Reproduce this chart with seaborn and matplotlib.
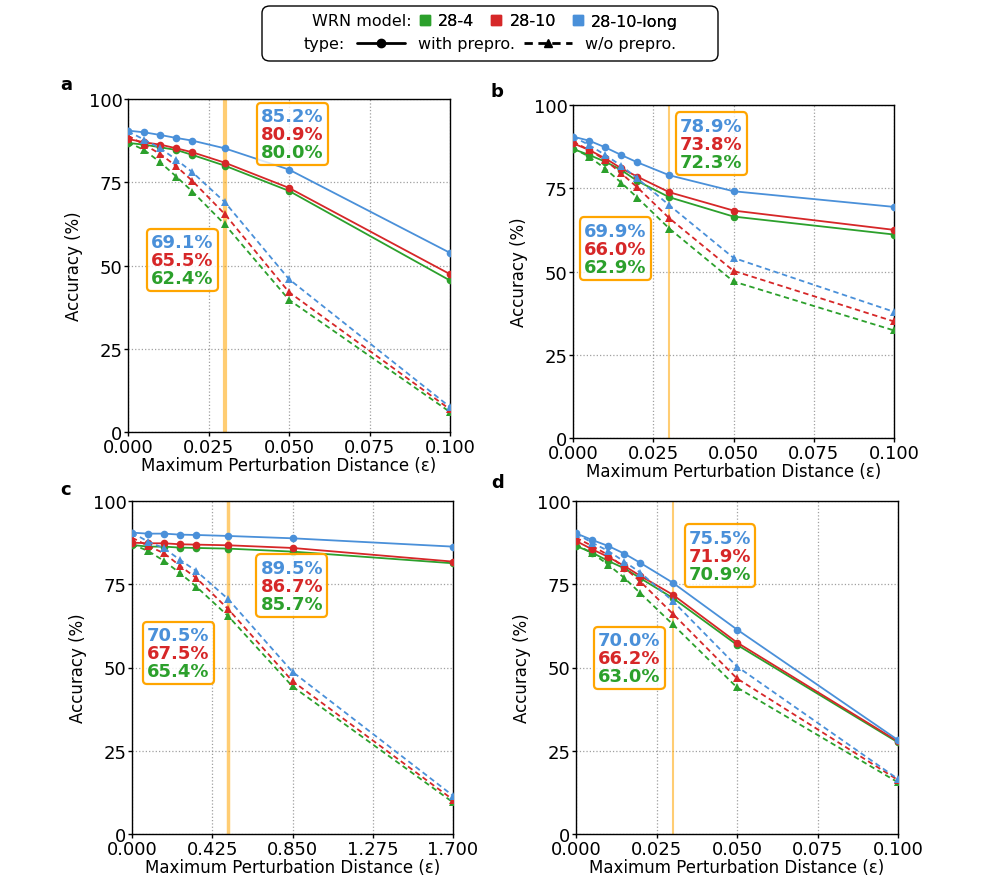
import numpy as np
import pandas as pd
import matplotlib
matplotlib.use("Agg")
import matplotlib.pyplot as plt
import seaborn as sns
from matplotlib.lines import Line2D
from matplotlib.patches import FancyBboxPatch
from matplotlib.offsetbox import TextArea, VPacker, AnnotationBbox

sns.set_style("white")
plt.rcParams['font.family'] = ['DejaVu Sans']
plt.rcParams['text.color'] = 'black'
plt.rcParams['axes.labelcolor'] = 'black'
plt.rcParams['xtick.color'] = 'black'
plt.rcParams['ytick.color'] = 'black'

# x values (epsilon)
eps = [0.0, 0.005, 0.01, 0.015, 0.02, 0.03, 0.05, 0.1]
eps_c = [0.0, 0.085, 0.17, 0.255, 0.34, 0.51, 0.85, 1.7]

models = ['28-4', '28-10', '28-10-long']
colors = ['#2ca02c', '#d62728', '#4a90d9']

# panel a
a_with_4 = [86.8, 86.3, 85.5, 84.7, 83.2, 80.0, 72.4, 45.5]
a_with_10 = [88.0, 87.0, 86.3, 85.2, 84.0, 80.9, 73.3, 47.4]
a_with_long = [90.5, 90.0, 89.2, 88.3, 87.5, 85.2, 78.8, 53.8]
a_wo_4 = [87.0, 84.7, 81.0, 76.7, 72.2, 62.4, 39.7, 6.0]
a_wo_10 = [89.0, 86.3, 83.5, 79.8, 75.4, 65.5, 42.0, 6.8]
a_wo_long = [90.3, 87.8, 85.2, 81.8, 78.0, 69.1, 45.9, 7.5]

# panel b
b_with_4 = [86.8, 85.0, 83.0, 80.5, 77.2, 72.3, 66.5, 61.1]
b_with_10 = [88.5, 86.5, 84.0, 81.0, 78.5, 73.8, 68.3, 62.5]
b_with_long = [90.5, 89.3, 87.3, 85.0, 82.8, 78.9, 74.1, 69.4]
b_wo_4 = [87.0, 84.5, 80.9, 76.7, 72.2, 62.9, 47.0, 32.3]
b_wo_10 = [89.0, 86.5, 83.5, 79.5, 75.3, 66.0, 50.2, 35.0]
b_wo_long = [90.5, 88.0, 85.0, 81.8, 78.0, 69.9, 54.1, 37.9]

# panel c
c_with_4 = [86.8, 86.3, 86.3, 86.0, 85.9, 85.7, 84.8, 81.3]
c_with_10 = [87.5, 87.3, 87.3, 87.0, 86.9, 86.7, 85.9, 81.8]
c_with_long = [90.5, 90.2, 90.2, 89.9, 89.8, 89.5, 88.8, 86.3]
c_wo_4 = [87.0, 85.0, 82.0, 78.3, 74.3, 65.4, 44.3, 9.5]
c_wo_10 = [89.0, 86.5, 84.3, 80.5, 76.9, 67.5, 45.9, 10.3]
c_wo_long = [90.5, 87.8, 85.8, 82.3, 79.0, 70.5, 48.7, 11.5]

# panel d
d_with_4 = [86.5, 84.5, 82.0, 79.8, 76.8, 70.9, 56.8, 27.5]
d_with_10 = [88.0, 85.5, 83.2, 80.5, 77.5, 71.9, 57.5, 27.8]
d_with_long = [90.3, 88.3, 86.5, 84.2, 81.4, 75.5, 61.4, 28.2]
d_wo_4 = [87.0, 84.3, 80.9, 76.9, 72.3, 63.0, 44.0, 15.5]
d_wo_10 = [89.0, 86.5, 83.8, 80.0, 75.8, 66.2, 46.7, 16.2]
d_wo_long = [90.2, 87.5, 85.0, 81.8, 78.5, 70.0, 50.3, 16.5]

panels = {
    'a': (eps, [a_with_4, a_with_10, a_with_long], [a_wo_4, a_wo_10, a_wo_long]),
    'b': (eps, [b_with_4, b_with_10, b_with_long], [b_wo_4, b_wo_10, b_wo_long]),
    'c': (eps_c, [c_with_4, c_with_10, c_with_long], [c_wo_4, c_wo_10, c_wo_long]),
    'd': (eps, [d_with_4, d_with_10, d_with_long], [d_wo_4, d_wo_10, d_wo_long]),
}

# axes boxes in pixels (left, right, top, bottom), label pos, vline width, box positions
W, H = 983, 895
layout = {
    'a': ((128, 450, 100, 433), (66, 85), 3.0, [(0.051, 89.5), (0.0168, 51.6)]),
    'b': ((573, 894, 106, 439), (497, 92), 1.5, [(0.0431, 88.4), (0.0132, 56.9)]),
    'c': ((132, 453, 502, 835), (66, 490), 2.5, [(0.847, 74.6), (0.246, 54.4)]),
    'd': ((576, 898, 502, 835), (498, 483), 1.5, [(0.0447, 83.6), (0.0165, 52.9)]),
}

fig = plt.figure(figsize=(W / 100, H / 100), dpi=100)
fs = 12
tfs = 13
lfs = 11.5

for key, (xs, with_vals, wo_vals) in panels.items():
    (l, r, t, b), (lx, ly), vlw, boxes = layout[key]
    ax = fig.add_axes([l / W, 1 - b / H, (r - l) / W, (b - t) / H])

    rows = []
    for m, v in zip(models, with_vals):
        for x, y in zip(xs, v):
            rows.append((x, y, m, 'with'))
    for m, v in zip(models, wo_vals):
        for x, y in zip(xs, v):
            rows.append((x, y, m, 'w/o'))
    df = pd.DataFrame(rows, columns=['eps', 'acc', 'model', 'type'])

    xmax = xs[-1]
    xmark = xs[5]
    ax.axvline(xmark, color='orange', alpha=0.55, lw=vlw, zorder=1)

    sns.lineplot(data=df, x='eps', y='acc', hue='model', style='type',
                 hue_order=models, style_order=['with', 'w/o'],
                 palette=colors, markers={'with': 'o', 'w/o': '^'},
                 dashes={'with': '', 'w/o': (3, 2)}, markersize=5.5,
                 markeredgewidth=0, lw=1.3, legend=False, ax=ax, zorder=3)

    ax.set_xlim(0, xmax)
    ax.set_ylim(0, 100)
    ax.set_xticks(np.linspace(0, xmax, 5))
    ax.set_xticklabels(['%.3f' % v for v in np.linspace(0, xmax, 5)])
    ax.set_yticks([0, 25, 50, 75, 100])
    ax.grid(True, ls=':', color='#888888', lw=0.9, alpha=0.8)
    ax.tick_params(labelsize=tfs, length=3, width=1, direction='out',
                   bottom=True, left=True, pad=1)
    for s in ax.spines.values():
        s.set_color('black')
        s.set_linewidth(1.0)
    ax.set_xlabel('Maximum Perturbation Distance (ε)', fontsize=fs, labelpad=0)
    ax.set_ylabel('Accuracy (%)', fontsize=fs, labelpad=4)

    fig.text(lx / W, 1 - ly / H, key, fontsize=13, fontweight='bold',
             ha='center', va='center')

    # annotation boxes with values at the marked epsilon
    for (bx, by), series in zip(boxes, [with_vals, wo_vals]):
        lines = []
        for v, c in zip(series[::-1], colors[::-1]):
            lines.append(TextArea('%.1f%%' % v[5],
                                  textprops=dict(color=c, fontsize=13, fontweight='bold')))
        pack = VPacker(children=lines, align='center', pad=0, sep=0)
        ab = AnnotationBbox(pack, (bx, by), xycoords='data', box_alignment=(0.5, 0.5),
                            frameon=True, pad=0.2,
                            bboxprops=dict(boxstyle='round,pad=0.3', ec='orange',
                                           fc=(1, 1, 1, 0.8), lw=1.6))
        ab.set_zorder(5)
        ax.add_artist(ab)

# top legend block
frame = FancyBboxPatch((262 / W, 1 - 62 / H), 456 / W, 55 / H,
                       boxstyle='round,pad=0,rounding_size=0.008',
                       transform=fig.transFigure, fc='white', ec='black', lw=1.0)
fig.patches.append(frame)

fig.text(412 / W, 1 - 22 / H, 'WRN model:', fontsize=lfs, ha='right', va='center')
fig.text(345 / W, 1 - 45 / H, 'type:', fontsize=lfs, ha='right', va='center')

model_handles = [Line2D([], [], marker='s', ls='none', color=c, markersize=7) for c in colors]
leg1 = fig.legend(model_handles, models, loc='center left',
                  bbox_to_anchor=(419 / W, 1 - 22 / H), ncol=3, frameon=False,
                  fontsize=lfs, handlelength=0.7, handletextpad=0.5,
                  columnspacing=1.0, borderpad=0, borderaxespad=0)
type_handles = [Line2D([], [], color='black', marker='o', ls='-', lw=2, markersize=6),
                Line2D([], [], color='black', marker='^', ls=(0, (3, 2)), lw=2, markersize=6)]
leg2 = fig.legend(type_handles, ['with prepro.', 'w/o prepro.'], loc='center left',
                  bbox_to_anchor=(357 / W, 1 - 45 / H), ncol=2, frameon=False,
                  fontsize=lfs, handlelength=3.0, handletextpad=0.8,
                  columnspacing=0.6, borderpad=0, borderaxespad=0)
fig.add_artist(leg1)

fig.savefig('out.png', dpi=100)
